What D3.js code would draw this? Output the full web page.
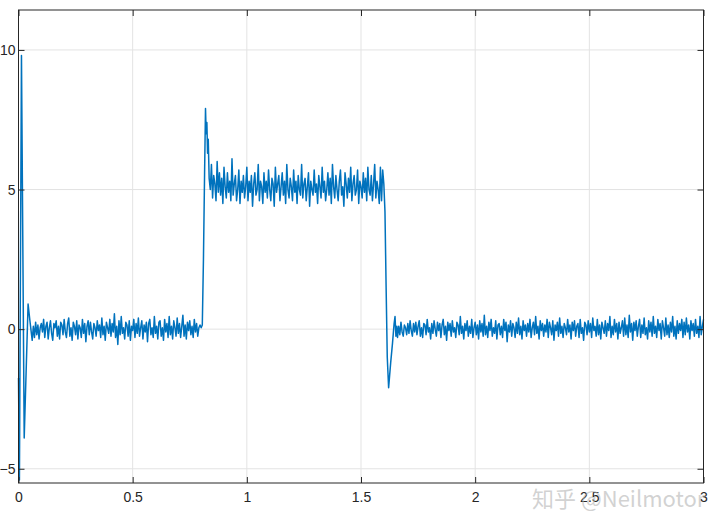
<!DOCTYPE html>
<html>
<head>
<meta charset="utf-8">
<script src="https://cdn.jsdelivr.net/npm/d3@7"></script>
<style>
  html, body { margin: 0; padding: 0; background: #fff; }
  svg { display: block; }
  text { font-family: "Liberation Sans", Arial, sans-serif; }
</style>
</head>
<body>
<div id="chart"></div>
<script>
const width = 720;
const height = 530;

// axis ticks
const xTicks = [0, 0.5, 1, 1.5, 2, 2.5, 3];
const yTicks = [-5, 0, 5, 10];

// start-up transient [t, value]
const startPts = [[0, -1.75], [0.004, -5.4], [0.013, 9.8], [0.025, -3.9], [0.042, 0.9]];

// noise around 0, t = 0.050 .. 0.800, dt = 0.005
const low1Start = 0.05;
const low1 = [
  0.30, -0.05, -0.40, 0.10, -0.30, 0.25, -0.20, 0.15, -0.35, 0.05,
  0.20, -0.10, 0.35, -0.30, 0.10, 0.25, -0.35, 0.05, 0.30, -0.15,
  -0.40, 0.20, 0.05, 0.30, -0.25, 0.10, -0.35, 0.25, 0.15, -0.20,
  0.35, -0.10, -0.30, 0.20, 0.40, -0.25, 0.05, -0.40, 0.25, 0.10,
  -0.20, 0.30, -0.35, 0.15, 0.05, -0.30, 0.35, -0.15, 0.20, -0.45,
  0.10, 0.30, -0.20, 0.25, -0.10, -0.35, 0.20, 0.05, -0.25, 0.30,
  -0.05, 0.15, -0.30, 0.40, -0.20, 0.10, -0.40, 0.25, 0.05, -0.15,
  0.35, -0.25, 0.20, -0.10, 0.55, -0.30, 0.10, -0.55, 0.30, -0.20,
  0.45, -0.15, 0.05, -0.35, 0.25, 0.15, -0.25, 0.30, -0.40, 0.10,
  -0.05, 0.35, -0.30, 0.20, -0.15, 0.40, -0.25, 0.05, 0.30, -0.35,
  0.15, -0.10, 0.25, -0.45, 0.20, 0.35, -0.20, 0.05, -0.30, 0.45,
  -0.15, 0.10, -0.35, 0.25, 0.30, -0.25, 0.05, -0.40, 0.35, -0.10,
  0.20, -0.30, 0.45, -0.20, 0.10, -0.35, 0.30, 0.05, -0.25, 0.40,
  -0.15, 0.20, -0.30, 0.10, 0.50, -0.25, 0.15, -0.35, 0.25, -0.05,
  0.30, -0.20, 0.10, -0.30, 0.35, -0.10, 0.20, -0.25, 0.05, 0.15,
  0.05
];

// step up with overshoot [t, value]
const risePts = [[0.805, 0.15], [0.810, 2.5], [0.815, 5.6], [0.819, 7.9], [0.822, 7.0],
  [0.825, 7.4], [0.828, 6.3], [0.831, 6.8], [0.835, 5.4]];

// noise around 5, t = 0.840 .. 1.600, dt = 0.005
const highStart = 0.84;
const high = [
  5.0, 5.9, 4.7, 5.5, 5.2, 4.6, 6.0, 4.9, 5.6, 4.8,
  5.4, 4.5, 5.8, 5.1, 4.7, 5.6, 4.9, 5.3, 4.6, 6.1,
  4.8, 5.2, 5.5, 4.6, 5.0, 5.7, 4.5, 5.3, 4.9, 5.5,
  4.7, 5.1, 5.8, 4.6, 5.3, 4.9, 5.5, 4.4, 5.2, 5.6,
  4.8, 5.0, 5.9, 4.6, 5.3, 5.1, 4.5, 5.6, 4.9, 5.3,
  4.7, 5.7, 5.0, 4.6, 5.4, 5.2, 4.4, 5.8, 4.9, 5.2,
  5.5, 4.6, 5.1, 5.6, 4.8, 5.3, 4.5, 5.9, 5.0, 4.7,
  5.4, 5.1, 4.6, 5.7, 4.9, 5.3, 4.5, 5.5, 5.0, 4.8,
  5.9, 4.7, 5.2, 5.4, 4.6, 5.1, 5.6, 4.4, 5.3, 5.0,
  4.8, 5.7, 4.9, 5.2, 4.5, 5.5, 5.1, 4.7, 5.8, 4.9,
  5.3, 4.6, 5.0, 5.6, 4.8, 5.4, 4.5, 5.9, 5.1, 4.7,
  5.5, 5.0, 4.6, 5.3, 5.7, 4.8, 5.1, 4.4, 5.6, 5.2,
  4.7, 5.4, 4.9, 5.8, 4.6, 5.2, 5.5, 4.8, 5.0, 5.7,
  4.5, 5.3, 5.1, 4.7, 5.6, 4.9, 5.4, 4.6, 5.8, 5.0,
  4.8, 5.5, 4.6, 5.2, 5.9, 4.7, 5.3, 5.0, 4.5, 5.8,
  4.6, 5.7, 5.2
];

// step down with undershoot [t, value]
const fallPts = [[1.605, 4.2], [1.610, 1.5], [1.615, -1.0], [1.621, -2.1], [1.630, -1.2],
  [1.638, -0.5], [1.645, 0.2], [1.649, 0.45], [1.653, -0.25], [1.657, 0.1]];

// noise around 0, t = 1.660 .. 3.000, dt = 0.005
const low2Start = 1.66;
const low2 = [
  -0.30, 0.10, -0.20, 0.25, -0.10, -0.25, 0.15, 0.05, -0.20, 0.20,
  -0.15, 0.30, -0.05, -0.25, 0.20, -0.10, 0.25, -0.20, 0.10, 0.30,
  -0.25, 0.05, -0.30, 0.20, 0.15, -0.20, 0.35, -0.10, 0.05, -0.35,
  0.20, -0.15, 0.30, 0.00, -0.25, 0.25, -0.05, 0.20, -0.30, 0.15,
  0.35, -0.20, 0.10, -0.40, 0.25, -0.05, 0.20, -0.25, 0.30, -0.10,
  0.05, -0.30, 0.25, 0.15, -0.20, 0.45, -0.15, 0.10, -0.35, 0.20,
  -0.05, 0.30, -0.25, 0.10, -0.15, 0.35, -0.30, 0.05, 0.25, -0.20,
  0.15, -0.35, 0.30, -0.10, 0.20, -0.25, 0.50, -0.20, 0.10, -0.30,
  0.25, -0.05, 0.35, -0.25, 0.05, -0.15, 0.30, -0.35, 0.15, 0.20,
  -0.20, 0.10, -0.30, 0.35, -0.05, 0.25, -0.45, 0.15, -0.10, 0.30,
  -0.25, 0.20, 0.05, -0.30, 0.25, -0.15, 0.40, -0.20, 0.10, -0.35,
  0.30, -0.05, 0.15, -0.25, 0.20, -0.10, 0.35, -0.30, 0.05, 0.25,
  -0.20, 0.45, -0.15, 0.10, -0.35, 0.30, -0.05, 0.20, -0.25, 0.15,
  -0.10, 0.35, -0.30, 0.25, 0.05, -0.20, 0.30, -0.40, 0.15, -0.05,
  0.25, -0.25, 0.40, -0.15, 0.10, -0.30, 0.20, 0.05, -0.20, 0.35,
  -0.10, 0.15, -0.35, 0.25, -0.05, 0.30, -0.25, 0.10, 0.20, -0.30,
  0.35, -0.15, 0.05, -0.40, 0.25, 0.15, -0.20, 0.30, -0.10, 0.20,
  -0.30, 0.40, -0.05, 0.10, -0.25, 0.35, -0.20, 0.15, -0.35, 0.25,
  0.05, -0.15, 0.30, -0.25, 0.20, -0.05, 0.45, -0.30, 0.10, -0.20,
  0.35, -0.10, 0.20, -0.35, 0.25, -0.15, 0.05, 0.30, -0.25, 0.40,
  -0.20, 0.15, -0.30, 0.50, -0.10, 0.20, -0.40, 0.25, -0.05, 0.30,
  -0.25, 0.10, 0.35, -0.30, 0.15, -0.15, 0.40, -0.20, 0.05, -0.35,
  0.30, -0.10, 0.25, -0.25, 0.45, -0.15, 0.10, -0.30, 0.35, -0.05,
  0.20, -0.35, 0.30, 0.05, -0.25, 0.40, -0.20, 0.15, -0.30, 0.25,
  -0.10, 0.45, -0.25, 0.10, -0.35, 0.30, -0.15, 0.20, -0.05, 0.35,
  -0.30, 0.25, -0.20, 0.40, -0.10, 0.15, -0.35, 0.30, -0.05, 0.20,
  -0.25, 0.35, -0.15, 0.10, -0.30, 0.45, -0.20, 0.10, 0.35
];

const dt = 0.005;
const sampled = (start, vals) => vals.map((v, i) => [start + i * dt, v]);
const series = [].concat(
  startPts,
  sampled(low1Start, low1),
  risePts,
  sampled(highStart, high),
  fallPts,
  sampled(low2Start, low2)
);

const margin = {top: 10, right: 16.5, bottom: 47, left: 18.5};
const iw = width - margin.left - margin.right;
const ih = height - margin.top - margin.bottom;

const x = d3.scaleLinear().domain([0, 3]).range([0, iw]);
const y = d3.scaleLinear().domain([-5.51, 11.43]).range([ih, 0]);

const svg = d3.select("#chart").append("svg")
    .attr("width", width)
    .attr("height", height);

const g = svg.append("g").attr("transform", `translate(${margin.left},${margin.top})`);

// grid
g.append("g").selectAll("line").data(xTicks).join("line")
    .attr("x1", d => x(d)).attr("x2", d => x(d))
    .attr("y1", 0).attr("y2", ih)
    .attr("stroke", "#e3e3e3").attr("stroke-width", 1);
g.append("g").selectAll("line").data(yTicks).join("line")
    .attr("x1", 0).attr("x2", iw)
    .attr("y1", d => y(d)).attr("y2", d => y(d))
    .attr("stroke", "#e3e3e3").attr("stroke-width", 1);

// signal
g.append("path")
    .datum(series)
    .attr("fill", "none")
    .attr("stroke", "#0072BD")
    .attr("stroke-width", 1.5)
    .attr("stroke-linejoin", "round")
    .attr("d", d3.line().x(d => x(d[0])).y(d => y(d[1])));

// axes, ticks point inward like matlab
const fmt = d3.format("~g");
const styleAxis = sel => {
    sel.select(".domain").remove();
    sel.selectAll(".tick line").attr("stroke", "#262626");
    sel.selectAll(".tick text").attr("fill", "#262626").style("font-size", "14px");
};

g.append("g").attr("transform", `translate(0,${ih})`)
    .call(d3.axisBottom(x).tickValues(xTicks).tickFormat(fmt).tickSizeInner(-6).tickPadding(9))
    .call(styleAxis);
g.append("g")
    .call(d3.axisLeft(y).tickValues(yTicks).tickFormat(fmt).tickSizeInner(-6).tickPadding(3))
    .call(styleAxis);
g.append("g")
    .call(d3.axisTop(x).tickValues(xTicks).tickFormat("").tickSizeInner(-6))
    .call(styleAxis);
g.append("g").attr("transform", `translate(${iw},0)`)
    .call(d3.axisRight(y).tickValues(yTicks).tickFormat("").tickSizeInner(-6))
    .call(styleAxis);

g.append("rect")
    .attr("width", iw).attr("height", ih)
    .attr("fill", "none").attr("stroke", "#262626").attr("stroke-width", 1);

// watermark (sits over the last tick labels, as in the source image)
svg.append("text")
    .attr("x", 532).attr("y", 507)
    .style("font-family", "'Noto Sans CJK SC', sans-serif")
    .style("font-size", "22px")
    .attr("fill", "#b4b4b4")
    .attr("fill-opacity", 0.6)
    .text("知乎 @Neilmotor");
</script>
</body>
</html>
